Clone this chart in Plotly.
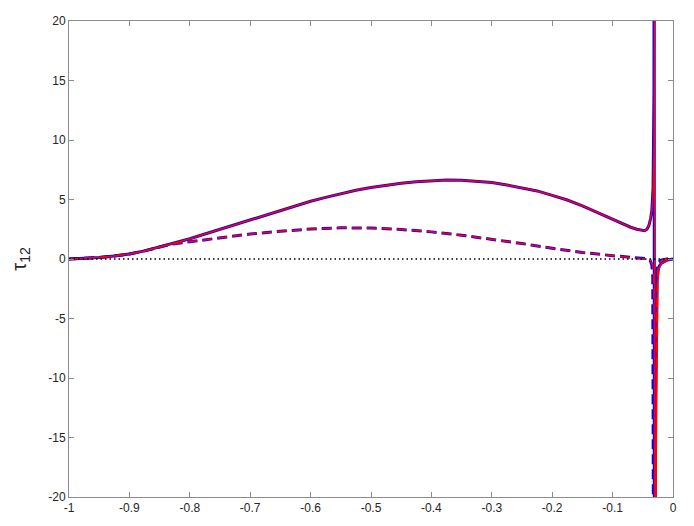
# Recreación de la figura tau_12 con Plotly

import plotly.graph_objects as go

# ---- datos ----
# tramo comun (antes del polo), igual para azul y rojo
x_base = [-1.0, -0.975, -0.95, -0.925, -0.9, -0.875, -0.85, -0.825, -0.8,
          -0.775, -0.75, -0.725, -0.7, -0.675, -0.65, -0.625, -0.6, -0.575,
          -0.55, -0.525, -0.5, -0.475, -0.45, -0.425, -0.4, -0.375, -0.35,
          -0.325, -0.3, -0.275, -0.25, -0.225, -0.2, -0.175, -0.15, -0.125,
          -0.1, -0.085, -0.07, -0.06, -0.052, -0.047, -0.043, -0.04, -0.037,
          -0.035]
tau_base = [0.0, 0.04, 0.13, 0.26, 0.42, 0.68, 1.0, 1.33, 1.7,
            2.1, 2.5, 2.9, 3.3, 3.7, 4.1, 4.48, 4.85, 5.18,
            5.5, 5.77, 6.0, 6.2, 6.36, 6.49, 6.58, 6.63, 6.62,
            6.55, 6.42, 6.22, 6.0, 5.72, 5.35, 4.96, 4.47, 3.92,
            3.35, 2.98, 2.67, 2.5, 2.41, 2.38, 2.5, 2.8, 3.4,
            4.1]

# curva a trazos (antes del polo)
x_dash_base = [-1.0, -0.975, -0.95, -0.925, -0.9, -0.875, -0.85, -0.83, -0.8,
               -0.775, -0.75, -0.7, -0.65, -0.6, -0.55, -0.5, -0.45, -0.4,
               -0.35, -0.3, -0.25, -0.2, -0.15, -0.1, -0.07, -0.05, -0.042]
tau_dash_base = [0.0, 0.04, 0.13, 0.26, 0.42, 0.68, 1.0, 1.26, 1.45,
                 1.62, 1.8, 2.1, 2.33, 2.52, 2.62, 2.6, 2.48, 2.28,
                 2.0, 1.68, 1.3, 0.9, 0.55, 0.28, 0.13, 0.05, 0.02]

# cerca del polo: azul
x_pole_azul = [-0.033, -0.032, -0.0315, -0.0312, -0.0308, -0.029, -0.0275,
               -0.0265, -0.025, -0.023, -0.019, -0.014, -0.009, 0.0]
tau_pole_azul = [6.0, 9.0, 14.0, 60.0, -60.0, -12.0, -5.0,
                 -1.8, -1.0, -0.6, -0.35, -0.2, -0.08, 0.0]
x_dpole_azul = [-0.038, -0.035, -0.0335, -0.0325, -0.0318, -0.0306, -0.029,
                -0.027, -0.024, -0.02, -0.01, 0.0]
tau_dpole_azul = [-0.1, -0.5, -1.5, -6.0, -60.0, -60.0, -5.0,
                  -1.0, -0.3, -0.1, 0.0, 0.0]

# cerca del polo: rojo
x_pole_rojo = [-0.033, -0.0315, -0.0308, -0.0305, -0.0301, -0.0285, -0.027,
               -0.026, -0.025, -0.0235, -0.0215, -0.018, -0.013, -0.008, 0.0]
tau_pole_rojo = [5.5, 9.0, 16.0, 60.0, -60.0, -20.0, -12.0,
                 -5.0, -1.8, -1.0, -0.6, -0.35, -0.2, -0.08, 0.0]
x_dpole_rojo = [-0.038, -0.034, -0.032, -0.031, -0.0303, -0.0291, -0.0275,
                -0.0255, -0.0225, -0.0185, -0.01, 0.0]
tau_dpole_rojo = [-0.05, -0.5, -1.5, -6.0, -60.0, -60.0, -5.0,
                  -1.0, -0.3, -0.1, 0.0, 0.0]

x_cero = [-1.0, 0.0]
tau_cero = [0.0, 0.0]

# marcas de los ejes (con guion, como en la figura original)
xticks = [-1.0, -0.9, -0.8, -0.7, -0.6, -0.5, -0.4, -0.3, -0.2, -0.1, 0.0]
xtick_labels = ['-1', '-0.9', '-0.8', '-0.7', '-0.6', '-0.5', '-0.4', '-0.3', '-0.2', '-0.1', '0']
yticks = [-20, -15, -10, -5, 0, 5, 10, 15, 20]
ytick_labels = ['-20', '-15', '-10', '-5', '0', '5', '10', '15', '20']

AZUL = '#0000ff'
ROJO = '#ff0000'
TRAZO = '10px,5px'

fig = go.Figure()

fig.add_trace(go.Scatter(x=x_base + x_pole_azul, y=tau_base + tau_pole_azul,
                         mode='lines', line=dict(color=AZUL, width=3)))
fig.add_trace(go.Scatter(x=x_dash_base + x_dpole_azul, y=tau_dash_base + tau_dpole_azul,
                         mode='lines', line=dict(color=AZUL, width=3, dash=TRAZO)))
fig.add_trace(go.Scatter(x=x_base + x_pole_rojo, y=tau_base + tau_pole_rojo,
                         mode='lines', line=dict(color=ROJO, width=1.5)))
fig.add_trace(go.Scatter(x=x_dash_base + x_dpole_rojo, y=tau_dash_base + tau_dpole_rojo,
                         mode='lines', line=dict(color=ROJO, width=1.5, dash=TRAZO)))
fig.add_trace(go.Scatter(x=x_cero, y=tau_cero, mode='lines',
                         line=dict(color='black', width=1.4, dash='1.5px,3px')))

ejes = dict(showgrid=False, zeroline=False, showline=True, linecolor='#8c8c8c',
            linewidth=1, mirror='ticks', ticks='inside', ticklen=5,
            tickcolor='#8c8c8c', automargin=False,
            tickfont=dict(family='Liberation Sans', size=12, color='#262626'))

fig.update_xaxes(range=[-1, 0], tickvals=xticks, ticktext=xtick_labels, **ejes)
fig.update_yaxes(range=[-20, 20], tickvals=yticks, ticktext=ytick_labels, **ejes,
                 title=dict(text='τ<sub>12</sub>',
                            font=dict(family='Liberation Sans', size=20, color='#262626'),
                            standoff=24))

# la pagina tiene 8 px de margen en el body: se compensa aqui
fig.update_layout(width=686, height=518, showlegend=False,
                  margin=dict(l=61, r=21, t=13, b=29),
                  plot_bgcolor='white', paper_bgcolor='white')

fig.write_html("out.html")
